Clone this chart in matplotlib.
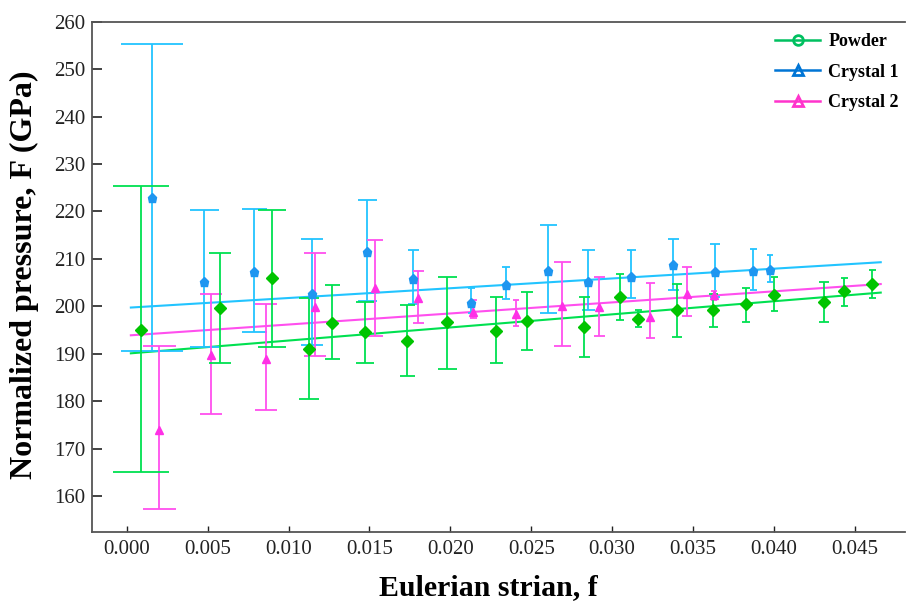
import matplotlib
matplotlib.use("Agg")
import matplotlib.pyplot as plt
from matplotlib.lines import Line2D
import numpy as np

# --- data (strain f, normalized pressure F in GPa) ---
powder_f = [0.00087, 0.00577, 0.00899, 0.01128, 0.01269, 0.01475, 0.01731, 0.0198,
            0.02285, 0.02475, 0.02826, 0.03048, 0.0316, 0.03403, 0.03624, 0.0383,
            0.0400, 0.04307, 0.0443, 0.04604]
powder_F = [195.1, 199.6, 206.0, 191.0, 196.5, 194.5, 192.7, 196.6,
            194.8, 196.9, 195.7, 202.0, 197.3, 199.2, 199.2, 200.4,
            202.4, 201.0, 203.2, 204.8]
powder_hi = [225.4, 211.3, 220.4, 201.8, 204.5, 201.0, 200.3, 206.2,
             201.9, 203.1, 201.9, 206.9, 199.2, 204.8, 202.6, 203.8,
             206.1, 205.2, 205.9, 207.6]
powder_lo = [165.0, 188.1, 191.5, 180.4, 189.0, 188.1, 185.3, 186.7,
             188.1, 190.8, 189.4, 197.1, 195.7, 193.6, 195.7, 196.6,
             199.0, 196.6, 200.1, 201.7]

cryst1_f = [0.00155, 0.0048, 0.00788, 0.01145, 0.01485, 0.01767, 0.02129, 0.02345,
            0.02605, 0.0285, 0.03115, 0.03379, 0.03634, 0.0387, 0.03973]
cryst1_F = [222.8, 205.2, 207.3, 202.7, 211.5, 205.7, 200.7, 204.5,
            207.5, 205.2, 206.2, 208.7, 207.2, 207.4, 207.6]
cryst1_hi = [255.3, 220.3, 220.5, 214.3, 222.5, 211.9, 203.8, 208.3,
             217.1, 211.9, 211.9, 214.3, 213.1, 212.1, 210.8]
cryst1_lo = [190.6, 191.5, 194.5, 191.8, 201.1, 200.5, 198.6, 201.5,
             198.6, 199.2, 201.7, 203.4, 202.0, 203.4, 205.2]

cryst2_f = [0.0020, 0.0052, 0.00862, 0.01165, 0.01536, 0.01798, 0.02141, 0.02407,
            0.02688, 0.02918, 0.03232, 0.03465, 0.0363]
cryst2_F = [173.9, 189.7, 189.0, 199.9, 203.8, 201.7, 198.8, 198.4,
            200.1, 199.9, 197.8, 202.7, 202.3]
cryst2_hi = [191.6, 202.7, 200.6, 211.3, 214.0, 207.5, 201.3, 201.3,
             209.3, 206.2, 205.0, 208.3, 203.3]
cryst2_lo = [157.2, 177.4, 178.1, 189.5, 193.8, 196.4, 197.5, 195.8,
             191.6, 193.8, 193.4, 197.9, 201.3]

# linear fits (end points of the drawn lines)
fit_f = [0.00025, 0.0466]
powder_fit = [190.1, 202.9]
cryst1_fit = [199.75, 209.3]
cryst2_fit = [193.9, 204.7]

# cap widths in pixels (as drawn in the reference)
powder_caps = [56, 22, 28, 20, 15, 18, 15, 19, 13, 12, 11, 8, 7, 10, 9, 8, 7, 10, 7, 7]
cryst1_caps = [62, 29, 25, 22, 19, 11, 7, 8, 17, 13, 9, 11, 10, 7, 6]
cryst2_caps = [33, 23, 22, 23, 16, 11, 7, 6, 17, 11, 9, 10, 6]

DPI = 100
plt.rcParams["font.family"] = ["Liberation Serif", "DejaVu Serif"]

fig = plt.figure(figsize=(9.07, 6.03), dpi=DPI)
ax = fig.add_axes([91.7 / 907, 1 - 531.7 / 603, (905 - 91.7) / 907, (531.7 - 21.7) / 603])


def draw_series(f, F, hi, lo, caps, bar_color, mk_color, marker, ms, fit_vals):
    ax.plot(fit_f, fit_vals, color=bar_color, lw=1.5, zorder=2)
    for xi, yi, h, l, c in zip(f, F, hi, lo, caps):
        ax.errorbar([xi], [yi], yerr=[[yi - l], [h - yi]], fmt="none",
                    ecolor=bar_color, elinewidth=1.3, capthick=1.3,
                    capsize=c / 2 * 72 / DPI, zorder=3)
    ax.plot(f, F, ls="none", marker=marker, ms=ms, color=mk_color,
            markeredgecolor=mk_color, zorder=4)


draw_series(cryst1_f, cryst1_F, cryst1_hi, cryst1_lo, cryst1_caps,
            "#22C4FF", "#1E96F0", "p", 6.5, cryst1_fit)
draw_series(cryst2_f, cryst2_F, cryst2_hi, cryst2_lo, cryst2_caps,
            "#FF4FEE", "#FF30E6", "^", 6, cryst2_fit)
draw_series(powder_f, powder_F, powder_hi, powder_lo, powder_caps,
            "#00E050", "#00C400", "D", 6, powder_fit)

ax.set_xlim(-0.00217, 0.0481)
ax.set_ylim(152.5, 260)
ax.set_xticks(np.arange(0, 0.0451, 0.005))
ax.set_xticklabels([f"{v:.3f}" for v in np.arange(0, 0.0451, 0.005)])
ax.set_yticks(np.arange(160, 261, 10))

ax.tick_params(axis="y", direction="in", length=7.5, width=1.2, pad=4.5,
               labelsize=15, colors="#222222")
ax.tick_params(axis="x", direction="in", length=4.5, width=1.0, pad=6,
               labelsize=15, colors="#222222")
for s in ("left", "bottom", "top"):
    ax.spines[s].set_color("#555555")
    ax.spines[s].set_linewidth(1.3)
ax.spines["right"].set_visible(False)

fig.text(24 / 907, 1 - 275 / 603, "Normalized pressure, F (GPa)", rotation=90,
         ha="center", va="center", fontsize=23, fontweight="bold")
fig.text(488 / 907, 1 - 588 / 603, "Eulerian strian, f",
         ha="center", va="center", fontsize=21.5, fontweight="bold")

handles = [
    Line2D([], [], color="#00C060", lw=1.8, marker="o", ms=7,
           markerfacecolor="none", markeredgewidth=2),
    Line2D([], [], color="#0075D5", lw=1.8, marker="^", ms=7,
           markerfacecolor="none", markeredgewidth=2),
    Line2D([], [], color="#FF33CC", lw=1.8, marker="^", ms=7,
           markerfacecolor="none", markeredgewidth=2),
]
leg = ax.legend(handles, ["Powder", "Crystal 1", "Crystal 2"],
                loc="upper left", bbox_to_anchor=(775 / 907, 1 - 33 / 603),
                bbox_transform=fig.transFigure, frameon=False,
                prop={"size": 13, "weight": "bold"},
                handlelength=2.5, handletextpad=0.45, labelspacing=0.75,
                borderpad=0, borderaxespad=0)

fig.savefig("out.png", dpi=DPI)
